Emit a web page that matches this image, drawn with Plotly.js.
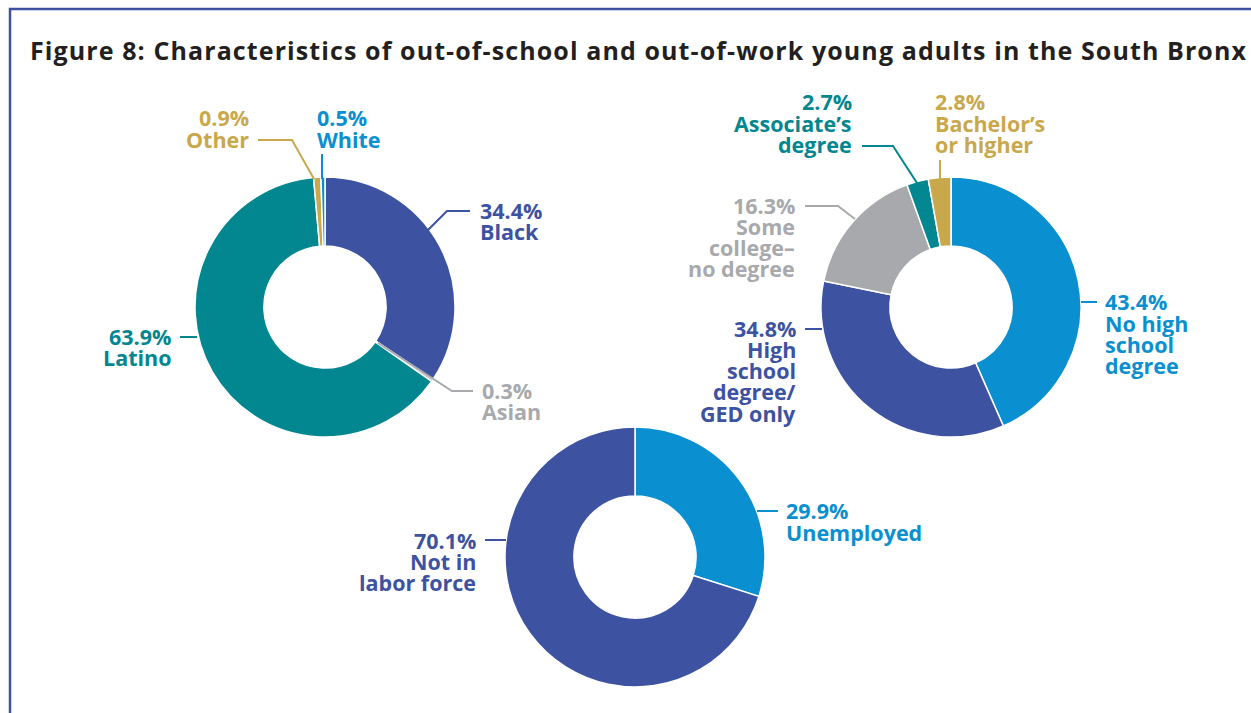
<!DOCTYPE html>
<html><head><meta charset="utf-8">
<script src="https://cdn.plot.ly/plotly-3.0.1.min.js"></script>
<style>html,body{margin:0;padding:0;background:#fff;} #chart{width:1251px;height:713px;} .gtitle{letter-spacing:1.1px;}</style>
</head><body><div id="chart"></div>
<script>
// ---------- DATA ----------
const raceCategories = ["Black", "Asian", "Latino", "Other", "White"];
const raceValues = [34.4, 0.3, 63.9, 0.9, 0.5];

const eduCategories = ["No high school degree", "High school degree/GED only", "Some college–no degree", "Associate’s degree", "Bachelor’s or higher"];
const eduValues = [43.4, 34.8, 16.3, 2.7, 2.8];

const laborCategories = ["Unemployed", "Not in labor force"];
const laborValues = [29.9, 70.1];

const titleText = "Figure 8: Characteristics of out-of-school and out-of-work young adults in the South Bronx";

// ---------- STYLE / LAYOUT ----------
const W = 1251, H = 713;
const C = {dark:"#3d52a1", teal:"#02868f", gold:"#c9a84c", blue:"#0a8fd0", gray:"#a7a9ac"};
const FONT = "Open Sans, Noto Sans, sans-serif";
const FS = 21.5, LINE = 21.3;

const pies = [
  { labels: raceCategories, values: raceValues, colors: [C.dark, C.gray, C.teal, C.gold, C.blue], cx: 325, cy: 307, r: 130,
    callouts: [
      {lines:["Black"], x:479, y:210, anchor:"left", path:[[428,230],[447,211],[470,211]]},
      {lines:["Asian"], x:481, y:390, anchor:"left", path:[[378,343],[452,391],[473,391]]},
      {lines:["Latino"], x:172, y:336, anchor:"right", path:[[180,337],[197,337]]},
      {lines:["Other"], x:250, y:118, anchor:"right", path:[[258,140],[292,140],[314,179]]},
      {lines:["White"], x:316, y:118, anchor:"left", path:[[322,154],[322,179]]}
    ]},
  { labels: eduCategories, values: eduValues, colors: [C.blue, C.dark, C.gray, C.teal, C.gold], cx: 951, cy: 307, r: 130,
    callouts: [
      {lines:["No high","school","degree"], x:1104, y:302, anchor:"left", path:[[1081,302],[1097,302]]},
      {lines:["High","school","degree/","GED only"], x:797, y:328, anchor:"right", path:[[805,329],[822,329]]},
      {lines:["Some","college–","no degree"], x:796, y:205, anchor:"right", path:[[805,206],[838,206],[855,219]]},
      {lines:["Associate’s","degree"], x:853, y:102, anchor:"right", path:[[862,146],[893,146],[917,183]]},
      {lines:["Bachelor’s","or higher"], x:934, y:102, anchor:"left", path:[[940,160],[940,179]]}
    ]},
  { labels: laborCategories, values: laborValues, colors: [C.blue, C.dark], cx: 635, cy: 557, r: 130,
    callouts: [
      {lines:["Unemployed"], x:785, y:511, anchor:"left", path:[[757,511],[778,511]]},
      {lines:["Not in","labor force"], x:477, y:540, anchor:"right", path:[[485,540],[506,540]]}
    ]}
];

const px = v => v / W;
const py = v => 1 - v / H;

const data = [];
const annotations = [];
const shapes = [];

// frame
shapes.push({type:"rect", xref:"paper", yref:"paper", x0:px(10), y0:-0.05, x1:1.05, y1:py(9),
  line:{color:"#3f51a3", width:2.5}, fillcolor:"rgba(0,0,0,0)", layer:"below"});

pies.forEach(p => {
  data.push({
    type:"pie", labels:p.labels, values:p.values, sort:false, direction:"clockwise", rotation:0,
    hole:0.47, textinfo:"none", hoverinfo:"label+percent", showlegend:false,
    marker:{colors:p.colors, line:{color:"#ffffff", width:1.5}},
    domain:{x:[px(p.cx - p.r), px(p.cx + p.r)], y:[py(p.cy + p.r), py(p.cy - p.r)]}
  });
  p.callouts.forEach((c, i) => {
    const col = p.colors[i];
    const lines = [p.values[i].toFixed(1) + "%"].concat(c.lines);
    lines.forEach((t, k) => {
      annotations.push({xref:"paper", yref:"paper", x:px(c.x), y:py(c.y + k * LINE),
        xanchor:c.anchor, yanchor:"middle", showarrow:false, text:"<b>" + t + "</b>",
        font:{family:FONT, size:FS, color:col}, align:c.anchor, borderpad:0});
    });
    const d = c.path.map((pt, j) => (j ? "L" : "M") + px(pt[0]).toFixed(5) + "," + py(pt[1]).toFixed(5)).join(" ");
    shapes.push({type:"path", xref:"paper", yref:"paper", path:d, line:{color:col, width:2}});
  });
});

const layout = {
  width:W, height:H, margin:{l:0, r:0, t:0, b:0},
  paper_bgcolor:"#ffffff", plot_bgcolor:"#ffffff",
  title:{text:"<b>" + titleText + "</b>", x:px(30), xanchor:"left", xref:"paper",
    y:py(51), yanchor:"middle", yref:"container", font:{family:FONT, size:25, color:"#231f20"}},
  annotations:annotations, shapes:shapes
};
Plotly.newPlot("chart", data, layout, {displayModeBar:false, staticPlot:true});
</script></body></html>
